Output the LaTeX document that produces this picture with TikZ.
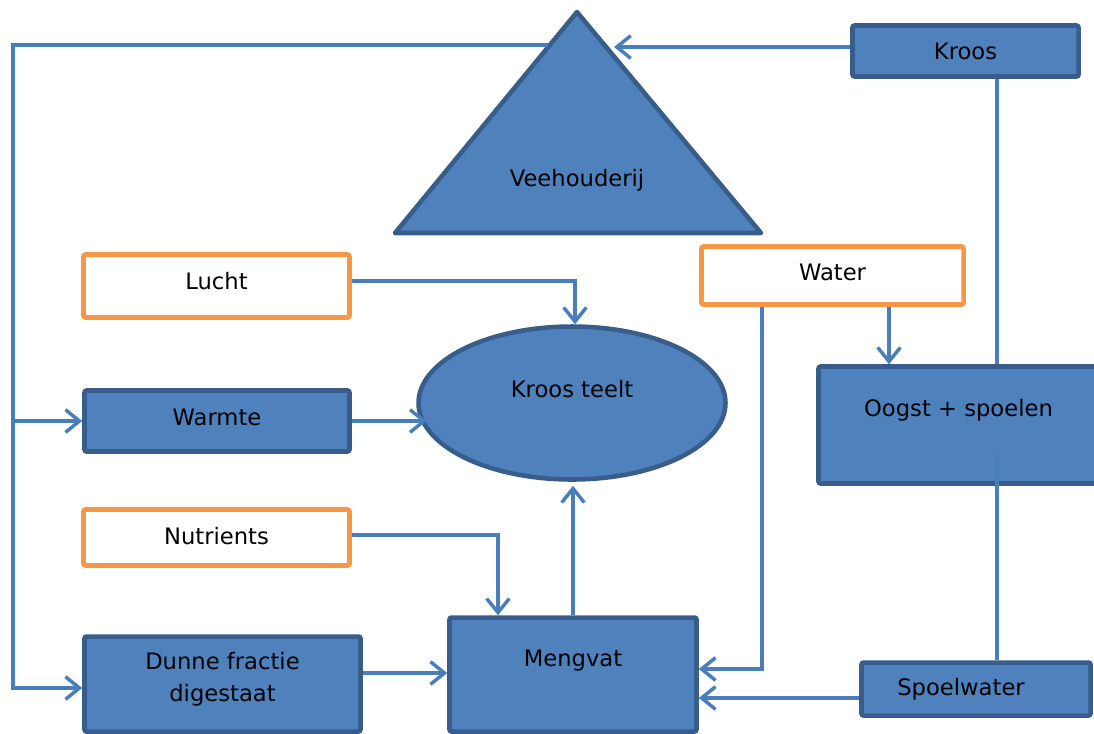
\documentclass[tikz,border=0pt]{standalone}
\usepackage{fontspec}
\setmainfont{DejaVu Sans}
\usetikzlibrary{arrows.meta,calc,shapes.geometric}
\definecolor{fillb}{HTML}{4F81BD}
\definecolor{edgeb}{HTML}{385D8A}
\definecolor{lineb}{HTML}{4A7EBB}
\definecolor{orng}{HTML}{F79646}
\begin{document}
\begin{tikzpicture}[x=0.75pt,y=-0.75pt,
  font=\fontsize{17}{24}\selectfont,
  box/.style 2 args={minimum width=#1*0.75pt, minimum height=#2*0.75pt, inner sep=0pt},
  bbox/.style={draw=edgeb, fill=fillb, line width=3.4pt, rounded corners=1.5pt},
  obox/.style={draw=orng, fill=white, line width=3.4pt, rounded corners=1.5pt},
  conn/.style={draw=lineb, line width=2.6pt},
  arr/.style={conn, -{Straight Barb[length=10.5pt,width=17pt]}},
  lbl/.style={align=center, inner sep=0pt}
]
\useasboundingbox (0,0) rectangle (1094,733);

% Veehouderij triangle
\coordinate (vtop) at (577,12);
\coordinate (vbl) at (395,233);
\coordinate (vbr) at (761,233);
\draw[draw=edgeb, fill=fillb, line width=3.4pt, line join=round] (vtop) -- (vbr) -- (vbl) -- cycle;
\node (vee) at (577,180) {Veehouderij};
\coordinate (vR) at (614,47);
\coordinate (vL) at (548,45);

% boxes
\node[bbox, box={226}{51}] (kroos) at (965.5,51) {Kroos};
\node[obox, box={266}{63}, label={[lbl, shift={(0,-5)}]center:Lucht}] (lucht) at (216.5,286) {};
\node[obox, box={262}{58}, label={[lbl, shift={(0,-3)}]center:Water}] (water) at (832.5,275.5) {};
\node[bbox, box={265}{61}, label={[lbl, shift={(0,-4)}]center:Warmte}] (warmte) at (217,421) {};
\node[obox, box={266}{56}, label={[lbl, shift={(0,-1)}]center:Nutrients}] (nutr) at (216.5,537.5) {};
\node[bbox, box={276}{95}, label={[lbl, shift={(0,-5)}]center:Dunne fractie\\digestaat}] (dunne) at (222.5,684) {};
\node[bbox, box={247}{114}, label={[lbl, shift={(0,-14)}]center:Mengvat}] (meng) at (573,674.5) {};
\node[bbox, box={300}{117}, label={[lbl, shift={(-10,-15)}]center:Oogst + spoelen}] (oogst) at (968.5,425) {};
\node[bbox, box={229}{53}, label={[lbl, shift={(-15,0)}]center:Spoelwater}] (spoel) at (976,689) {};
\node[draw=edgeb, fill=fillb, ellipse, line width=3.4pt, minimum width=307*0.75pt, minimum height=153*0.75pt, inner sep=0pt,
      label={[lbl, shift={(0,-14)}]center:Kroos teelt}] (kt) at (572,403) {};

% connectors
\draw[arr] (kroos.west |- vR) -- (vR);
\coordinate (lt) at (13,45);
\coordinate (lb) at (13,688);
\draw[arr] (vL) -- (lt) -- (lb) -- (lb -| dunne.west);
\draw[arr] (lt |- warmte.west) -- (warmte.west);

\draw[arr] ([yshift=3.75pt]lucht.east) -| ($(kt.north)+(3,0)$);
\draw[arr] (warmte.east) -- ($(warmte.east)+(75,0)$);
\coordinate (n1) at ($(meng.north)+(-75,0)$);
\draw[arr] ([yshift=1.9pt]nutr.east) -| (n1);
\draw[arr] (meng.north) -- ($(meng.north |- kt.south)+(0,4)$);
\coordinate (d1) at ($(dunne.east)+(0,-11)$);
\draw[arr] (d1) -- (d1 -| meng.west);

\coordinate (w1) at ($(water.south)+(56.5,0)$);
\coordinate (w2) at ($(water.south)+(-70.5,0)$);
\draw[arr] (w1) -- (w1 |- oogst.north);
\draw[arr] (w2) |- ($(meng.east)+(0,-5.5)$);
\coordinate (s1) at ($(spoel.west)+(0,9)$);
\draw[arr] (s1) -- (s1 -| meng.east);

\coordinate (k1) at ($(kroos.south)+(31.5,0)$);
\draw[conn] (k1) -- (k1 |- oogst.north);
\coordinate (o1) at (997,455);
\draw[conn] (o1) -- (o1 |- spoel.north);
\end{tikzpicture}
\end{document}
